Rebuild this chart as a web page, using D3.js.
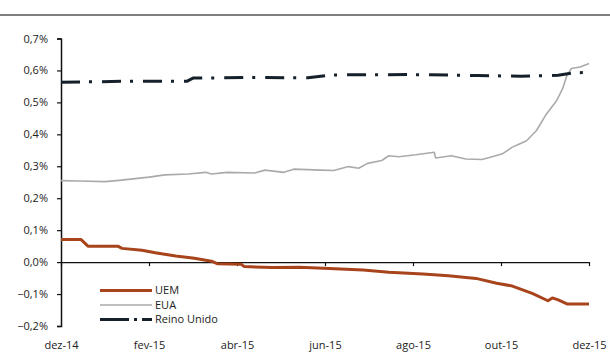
<!DOCTYPE html>
<html><head><meta charset="utf-8">
<script src="https://cdn.jsdelivr.net/npm/d3@7"></script>
<style>body{margin:0;background:#fff}svg{display:block}text{font-family:"Open Sans",sans-serif;fill:#222}</style>
</head><body><svg id="c" width="610" height="353"></svg>
<script>
const seriesNames = ["UEM", "EUA", "Reino Unido"];
const xTickLabels = ["dez-14","fev-15","abr-15","jun-15","ago-15","out-15","dez-15"];
const yTicks = [-0.2,-0.1,0,0.1,0.2,0.3,0.4,0.5,0.6,0.7];
const uemData = [
["2014-12-01",0.071],["2014-12-15",0.071],["2014-12-20",0.050],["2015-01-10",0.050],["2015-01-13",0.043],
["2015-01-27",0.037],["2015-02-05",0.029],["2015-02-18",0.019],["2015-03-02",0.012],["2015-03-14",0.003],
["2015-03-18",-0.005],["2015-04-04",-0.007],["2015-04-06",-0.014],["2015-04-25",-0.017],["2015-05-14",-0.016],
["2015-06-04",-0.020],["2015-06-27",-0.025],["2015-07-15",-0.032],["2015-08-08",-0.037],["2015-08-26",-0.043],
["2015-09-14",-0.051],["2015-09-28",-0.066],["2015-10-09",-0.075],["2015-10-23",-0.098],["2015-11-03",-0.121],
["2015-11-06",-0.112],["2015-11-10",-0.118],["2015-11-16",-0.131],["2015-12-01",-0.131]];
const euaData = [
["2014-12-01",0.255],["2014-12-14",0.254],["2015-01-01",0.252],["2015-01-11",0.256],["2015-01-24",0.262],
["2015-02-01",0.266],["2015-02-11",0.273],["2015-02-26",0.276],["2015-03-10",0.281],["2015-03-14",0.276],
["2015-03-25",0.281],["2015-04-13",0.279],["2015-04-20",0.288],["2015-05-03",0.281],["2015-05-10",0.291],
["2015-05-29",0.288],["2015-06-07",0.287],["2015-06-17",0.299],["2015-06-24",0.294],["2015-06-30",0.309],
["2015-07-10",0.318],["2015-07-15",0.333],["2015-07-22",0.330],["2015-08-03",0.336],["2015-08-16",0.344],
["2015-08-17",0.326],["2015-08-28",0.333],["2015-09-07",0.323],["2015-09-18",0.321],["2015-09-25",0.330],
["2015-10-02",0.339],["2015-10-09",0.360],["2015-10-14",0.370],["2015-10-19",0.380],["2015-10-26",0.412],
["2015-11-02",0.464],["2015-11-09",0.506],["2015-11-13",0.543],["2015-11-16",0.585],["2015-11-19",0.606],
["2015-11-25",0.611],["2015-12-01",0.622]];
const ukData = [
["2014-12-01",0.563],["2015-01-15",0.566],["2015-02-25",0.566],["2015-03-01",0.576],["2015-04-15",0.578],
["2015-05-20",0.577],["2015-06-05",0.586],["2015-08-01",0.587],["2015-09-15",0.584],["2015-10-15",0.582],
["2015-11-10",0.585],["2015-11-20",0.592],["2015-12-01",0.594]];
const colors = ["#a8441c","#aaaaaa","#15202b"];

// month index: dez-14 = 0 (Excel monthly base unit)
function monthIndex(s){
  const d = new Date(s+"T00:00:00");
  const y = d.getFullYear(), m = d.getMonth();
  const dim = new Date(y, m+1, 0).getDate();
  return (y-2014)*12 + m - 11 + (d.getDate()-1)/dim;
}
const svg = d3.select("#c");
const x = d3.scaleLinear().domain([0,12]).range([61,589]);
const y = d3.scaleLinear().domain([-0.2,0.7]).range([326,38.5]);
const fmt = v => d3.format(".1f")(v).replace(".",",")+"%";

// top rule
svg.append("line").attr("x1",0).attr("x2",610).attr("y1",15).attr("y2",15)
  .attr("stroke","#555").attr("stroke-width",1.5);

// y axis
const ya = svg.append("g").attr("transform","translate(61,0)")
  .call(d3.axisLeft(y).tickValues(yTicks).tickFormat(fmt).tickSize(4).tickPadding(9));
ya.select(".domain").attr("stroke","#111").attr("stroke-width",1.5);
ya.selectAll(".tick line").attr("stroke","#111").attr("stroke-width",1.2);
ya.selectAll("text").style("font-size","11px").attr("fill","#222");

// x axis on zero line
const xa = svg.append("g").attr("transform",`translate(0,${y(0)})`)
  .call(d3.axisBottom(x).tickValues(d3.range(0,13,2)).tickFormat((d,i)=>xTickLabels[i]).tickSize(4).tickSizeOuter(0));
xa.select(".domain").attr("stroke","#111").attr("stroke-width",1.3);
xa.selectAll(".tick line").attr("stroke","#111").attr("stroke-width",1.2);
xa.selectAll("text").style("font-size","11px").attr("fill","#222")
  .attr("y", 349 - y(0)).attr("dy","0");

const line = d3.line().x(d=>x(monthIndex(d[0]))).y(d=>y(d[1]));
const all = [uemData, euaData, ukData];
const widths = [3,1.6,3];
const dashes = [null,null,"19,9,3,10"];
[1,0,2].forEach(i=>{
  svg.append("path").datum(all[i]).attr("d",line).attr("fill","none")
    .attr("stroke",colors[i]).attr("stroke-width",widths[i])
    .attr("stroke-dasharray",dashes[i]).attr("stroke-linejoin","round");
});

// legend
const legDash = [null,null,"29,5,3,5,12"];
seriesNames.forEach((n,i)=>{
  const ly = 290.5 + i*14.5;
  svg.append("line").attr("x1",100).attr("x2",152).attr("y1",ly).attr("y2",ly)
    .attr("stroke",colors[i]).attr("stroke-width",widths[i]).attr("stroke-dasharray",legDash[i]);
  svg.append("text").attr("x",155).attr("y",ly).attr("dy","0.35em").style("font-size","11px").text(n);
});
</script></body></html>
